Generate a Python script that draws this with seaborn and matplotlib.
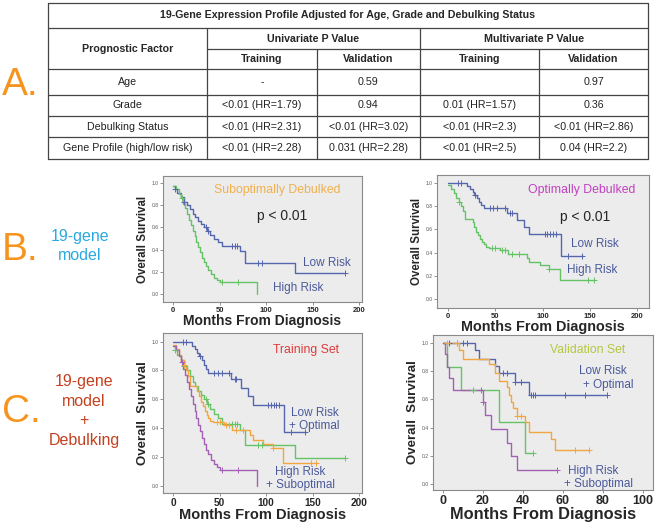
import numpy as np
import pandas as pd
import matplotlib
matplotlib.use("Agg")
import matplotlib.pyplot as plt
import seaborn as sns

# ---- table A ----
table_title = "19-Gene Expression Profile Adjusted for Age, Grade and Debulking Status"
factors = ["Age", "Grade", "Debulking Status", "Gene Profile (high/low risk)"]
uni_train = ["-", "<0.01 (HR=1.79)", "<0.01 (HR=2.31)", "<0.01 (HR=2.28)"]
uni_valid = ["0.59", "0.94", "<0.01 (HR=3.02)", "0.031 (HR=2.28)"]
multi_train = ["", "0.01 (HR=1.57)", "<0.01 (HR=2.3)", "<0.01 (HR=2.5)"]
multi_valid = ["0.97", "0.36", "<0.01 (HR=2.86)", "0.04 (HR=2.2)"]

# ---- training set curves (months, survival) ----
low_sub_t = [0, 2, 4, 8, 12, 15, 18, 21, 24, 27, 30, 33, 36, 40, 44, 48, 52, 72, 77, 131, 185]
low_sub_s = [0.97, 0.94, 0.91, 0.87, 0.83, 0.80, 0.76, 0.72, 0.69, 0.66, 0.63, 0.60, 0.57,
             0.53, 0.50, 0.47, 0.43, 0.39, 0.28, 0.19, 0.19]
low_sub_c = [2, 12, 35, 38, 63, 66, 69, 91, 95, 185]

high_sub_t = [0, 3, 6, 9, 11, 13, 15, 17, 19, 21, 23, 25, 27, 29, 31, 33, 35, 38, 41, 44, 47, 50, 90]
high_sub_s = [0.97, 0.94, 0.90, 0.86, 0.81, 0.77, 0.72, 0.67, 0.62, 0.57, 0.52, 0.47, 0.42,
              0.38, 0.33, 0.29, 0.25, 0.22, 0.18, 0.15, 0.13, 0.11, 0.0]
high_sub_c = [10, 52, 70]

low_opt_t = [0, 20, 23, 26, 28, 31, 33, 35, 38, 62, 73, 80, 86, 119, 143]
low_opt_s = [1.0, 0.97, 0.95, 0.92, 0.90, 0.87, 0.84, 0.81, 0.78, 0.74, 0.68, 0.62, 0.56, 0.37, 0.37]
low_opt_c = [11, 14, 29, 44, 48, 52, 60, 66, 68, 102, 105, 108, 111, 114, 127, 142]

high_opt_t = [0, 3, 6, 9, 12, 14, 16, 18, 26, 28, 30, 32, 34, 36, 38, 40, 43, 55, 63, 83, 86,
              97, 107, 118, 155]
high_opt_s = [0.98, 0.95, 0.91, 0.87, 0.84, 0.80, 0.76, 0.69, 0.66, 0.62, 0.58, 0.55, 0.52,
              0.49, 0.47, 0.45, 0.44, 0.42, 0.39, 0.35, 0.32, 0.29, 0.26, 0.16, 0.16]
high_opt_c = [12, 47, 50, 57, 60, 68, 75, 107, 148, 154]

# ---- validation set curves ----
v_low_opt_t = [0, 16, 18, 26, 28, 36, 43, 82]
v_low_opt_s = [1.0, 0.95, 0.89, 0.84, 0.79, 0.72, 0.63, 0.63]
v_low_opt_c = [3, 7, 10, 12, 30, 32, 36, 39, 44, 45, 46, 61, 71, 82]

v_high_opt_t = [0, 8, 10, 23, 26, 28, 32, 33, 34, 35, 37, 41, 43, 54, 56, 73]
v_high_opt_s = [1.0, 0.95, 0.89, 0.85, 0.79, 0.73, 0.69, 0.63, 0.58, 0.54, 0.48, 0.44, 0.37,
                0.32, 0.24, 0.24]
v_high_opt_c = [2, 7, 37, 39, 66, 73]

v_low_sub_t = [0, 2, 9, 28, 41, 45]
v_low_sub_s = [1.0, 0.83, 0.67, 0.44, 0.22, 0.22]
v_low_sub_c = [15, 45]

v_high_sub_t = [0, 1, 2, 3, 5, 20, 21, 24, 32, 34, 37, 57]
v_high_sub_s = [1.0, 0.92, 0.83, 0.75, 0.67, 0.58, 0.49, 0.39, 0.29, 0.20, 0.10, 0.10]
v_high_sub_c = [19, 20, 57]

BLUE = "#5566AD"
GREEN = "#66C266"
ORANGE = "#F3A640"
PURPLE = "#A461B3"
LABEL = "#4B5A9C"

sns.set_style("white")
plt.rcParams['font.family'] = ['Liberation Sans', 'DejaVu Sans']

fig = plt.figure(figsize=(6.62, 5.22), dpi=100)

# overlay in pixel coordinates for the table and side labels
ov = fig.add_axes([0, 0, 1, 1])
ov.set_xlim(0, 662)
ov.set_ylim(522, 0)
ov.axis("off")

L, R = 48, 648
c1, c2, c3, c4 = 207, 317, 420, 539
rows = [3, 28, 49, 69, 95, 116, 137, 159]
lc = "#444444"
for y in [rows[0], rows[1], rows[3], rows[4], rows[5], rows[6], rows[7]]:
    ov.plot([L, R], [y, y], color=lc, lw=0.9)
ov.plot([c1, R], [rows[2], rows[2]], color=lc, lw=0.9)
for x in [L, R]:
    ov.plot([x, x], [rows[0], rows[7]], color=lc, lw=0.9)
for x in [c1, c3]:
    ov.plot([x, x], [rows[1], rows[7]], color=lc, lw=0.9)
for x in [c2, c4]:
    ov.plot([x, x], [rows[2], rows[7]], color=lc, lw=0.9)

tfs = 7.7
ov.text((L + R) / 2, (rows[0] + rows[1]) / 2, table_title, ha="center", va="center",
        fontsize=tfs, fontweight="bold")
ov.text((L + c1) / 2, (rows[1] + rows[3]) / 2, "Prognostic Factor", ha="center", va="center",
        fontsize=tfs, fontweight="bold")
ov.text((c1 + c3) / 2, (rows[1] + rows[2]) / 2, "Univariate P Value", ha="center", va="center",
        fontsize=tfs, fontweight="bold")
ov.text((c3 + R) / 2, (rows[1] + rows[2]) / 2, "Multivariate P Value", ha="center", va="center",
        fontsize=tfs, fontweight="bold")
for a, b, s in [(c1, c2, "Training"), (c2, c3, "Validation"), (c3, c4, "Training"), (c4, R, "Validation")]:
    ov.text((a + b) / 2, (rows[2] + rows[3]) / 2, s, ha="center", va="center",
            fontsize=tfs, fontweight="bold")
cols = [(L, c1, factors), (c1, c2, uni_train), (c2, c3, uni_valid),
        (c3, c4, multi_train), (c4, R, multi_valid)]
for i in range(4):
    yc = (rows[3 + i] + rows[4 + i]) / 2
    for a, b, vals in cols:
        ov.text((a + b) / 2, yc, vals[i], ha="center", va="center", fontsize=7.7, color="#222222")

# side labels
for s, y in [("A.", 95), ("B.", 260), ("C.", 422)]:
    ov.text(2, y, s, ha="left", va="baseline", fontsize=28, color="#F7941D")
ov.text(80, 246, "19-gene\nmodel", ha="center", va="center", fontsize=11.5,
        color="#2AA8E0", linespacing=1.35)
ov.text(84, 411, "19-gene\nmodel\n+\nDebulking", ha="center", va="center", fontsize=11.5,
        color="#C4401F", linespacing=1.4)


def km(ax, t, s, cens, color):
    df = pd.DataFrame({"t": t, "s": s})
    sns.lineplot(data=df, x="t", y="s", drawstyle="steps-post", estimator=None, sort=False,
                 color=color, lw=1.0, ax=ax)
    idx = np.searchsorted(np.array(t), np.array(cens), side="right") - 1
    cy = np.array(s)[np.clip(idx, 0, len(s) - 1)]
    sns.scatterplot(x=cens, y=cy, marker="+", s=14, color=color, linewidth=0.7, ax=ax, zorder=3)


def style(ax, xlim, ylim, xticks, xtfs, xlfs, ylfs, ylabel):
    ax.set_facecolor("#ECECEC")
    ax.set_xlim(*xlim)
    ax.set_ylim(*ylim)
    ax.set_xticks(xticks)
    ax.set_yticks([0, 0.2, 0.4, 0.6, 0.8, 1.0])
    ax.set_yticklabels(["0.0", "0.2", "0.4", "0.6", "0.8", "1.0"])
    for sp in ax.spines.values():
        sp.set_color("#8A8A8A")
        sp.set_linewidth(0.8)
    ax.tick_params(axis="y", labelsize=3.6, labelcolor="#555555", length=2, width=0.5,
                   color="#666666", pad=1, left=True)
    ax.tick_params(axis="x", labelsize=xtfs, length=2, width=0.5, color="#666666", pad=1.5,
                   bottom=True)
    for lab in ax.get_xticklabels():
        lab.set_fontweight("bold")
    ax.set_xlabel("Months From Diagnosis", fontsize=xlfs, fontweight="bold", labelpad=0)
    ax.set_ylabel(ylabel, fontsize=ylfs, fontweight="bold", labelpad=2)


# B left: suboptimally debulked
ax1 = fig.add_axes([0.246, 0.421, 0.301, 0.242])
km(ax1, low_sub_t, low_sub_s, low_sub_c, BLUE)
km(ax1, high_sub_t, high_sub_s, high_sub_c, GREEN)
style(ax1, (-11, 203), (-0.07, 1.06), [0, 50, 100, 150, 200], 5.5, 10, 8.3, "Overall Survival")
ax1.text(112, 0.93, "Suboptimally Debulked", ha="center", va="center", fontsize=8.8, color="#F2B04C")
ax1.text(117, 0.70, "p < 0.01", ha="center", va="center", fontsize=10)
ax1.text(165, 0.28, "Low Risk", ha="center", va="center", fontsize=8.5, color=LABEL)
ax1.text(134, 0.06, "High Risk", ha="center", va="center", fontsize=8.5, color=LABEL)

# B right: optimally debulked
ax2 = fig.add_axes([0.660, 0.410, 0.320, 0.255])
km(ax2, low_opt_t, low_opt_s, low_opt_c, BLUE)
km(ax2, high_opt_t, high_opt_s, high_opt_c, GREEN)
style(ax2, (-11.6, 212), (-0.078, 1.07), [0, 50, 100, 150, 200], 5.5, 10.4, 8.3, "Overall Survival")
ax2.text(141, 0.94, "Optimally Debulked", ha="center", va="center", fontsize=8.8, color="#C23FC2")
ax2.text(145, 0.71, "p < 0.01", ha="center", va="center", fontsize=10)
ax2.text(155, 0.47, "Low Risk", ha="center", va="center", fontsize=8.5, color=LABEL)
ax2.text(152, 0.25, "High Risk", ha="center", va="center", fontsize=8.5, color=LABEL)

# C left: training set
ax3 = fig.add_axes([0.246, 0.0556, 0.301, 0.3065])
km(ax3, low_opt_t, low_opt_s, low_opt_c, BLUE)
km(ax3, low_sub_t, low_sub_s, low_sub_c, GREEN)
km(ax3, high_opt_t, high_opt_s, high_opt_c, ORANGE)
km(ax3, high_sub_t, high_sub_s, high_sub_c, PURPLE)
style(ax3, (-11, 203), (-0.05, 1.06), [0, 50, 100, 150, 200], 7.2, 10.5, 9.5, "Overall  Survival")
ax3.text(143, 0.94, "Training Set", ha="center", va="center", fontsize=8.8, color="#E23A3A")
ax3.text(152, 0.46, "Low Risk\n+ Optimal", ha="center", va="center", fontsize=8.5,
         color=LABEL, linespacing=1.1)
ax3.text(137, 0.05, "High Risk\n+ Suboptimal", ha="center", va="center", fontsize=8.5,
         color=LABEL, linespacing=1.1)

# C right: validation set
ax4 = fig.add_axes([0.654, 0.0613, 0.332, 0.297])
km(ax4, v_low_opt_t, v_low_opt_s, v_low_opt_c, BLUE)
km(ax4, v_low_sub_t, v_low_sub_s, v_low_sub_c, GREEN)
km(ax4, v_high_opt_t, v_high_opt_s, v_high_opt_c, ORANGE)
km(ax4, v_high_sub_t, v_high_sub_s, v_high_sub_c, PURPLE)
style(ax4, (-5, 105), (-0.043, 1.057), [0, 20, 40, 60, 80, 100], 9, 11.8, 9.5, "Overall  Survival")
ax4.text(72.5, 0.95, "Validation Set", ha="center", va="center", fontsize=8.8, color="#B5C840")
ax4.text(80, 0.80, "Low Risk", ha="center", va="center", fontsize=8.5, color=LABEL)
ax4.text(82.5, 0.70, "+ Optimal", ha="center", va="center", fontsize=8.5, color=LABEL)
ax4.text(75, 0.09, "High Risk", ha="center", va="center", fontsize=8.5, color=LABEL)
ax4.text(78, 0.0, "+ Suboptimal", ha="center", va="center", fontsize=8.5, color=LABEL)

fig.savefig("out.png", dpi=100)
